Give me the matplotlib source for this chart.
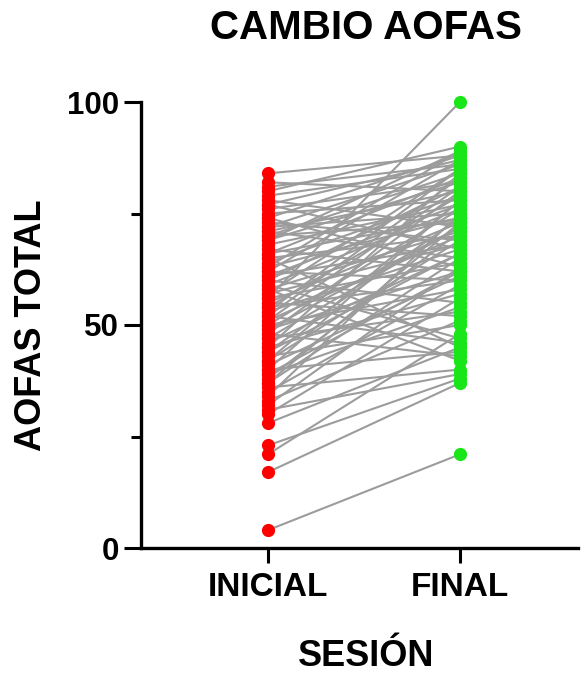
import matplotlib.pyplot as plt
import numpy as np

plt.rcParams['font.family'] = ['Liberation Sans', 'DejaVu Sans']
plt.rcParams['font.weight'] = 'bold'

sessions = ['INICIAL', 'FINAL']

# paired AOFAS scores (initial -> final)
inicial = [84, 82, 81, 80, 79, 78, 77, 77, 76, 75, 74, 74, 73, 72, 72, 71, 71, 70, 70,
           69, 69, 68, 67, 66, 66, 65, 65, 64, 63, 63, 62, 62, 61, 61, 60, 60, 59, 59,
           58, 58, 57, 57, 56, 56, 55, 55, 54, 54, 53, 53, 52, 52, 51, 51, 50, 50, 49,
           49, 48, 48, 47, 47, 46, 45, 45, 44, 44, 43, 42, 42, 41, 40, 40, 39, 39, 38,
           37, 37, 36, 35, 34, 33, 32, 31, 30, 28, 23, 21, 17, 4]
final = [88, 80, 86, 90, 85, 72, 87, 67, 82, 78, 88, 63, 69, 86, 75, 80, 65, 84, 73,
         89, 82, 77, 62, 83, 74, 70, 45, 79, 74, 89, 87, 60, 68, 77, 81, 55, 76, 47,
         71, 42, 85, 68, 100, 64, 73, 52, 79, 60, 67, 85, 83, 46, 70, 81, 58, 76, 62,
         72, 80, 43, 72, 53, 66, 57, 84, 74, 66, 50, 69, 78, 61, 78, 44, 54, 62, 71,
         65, 73, 40, 59, 75, 51, 63, 39, 56, 45, 38, 48, 37, 21]

fig = plt.figure(figsize=(5.81, 6.75), dpi=100)
ax = fig.add_axes([141 / 581, 127 / 675, 437 / 581, 446 / 675])

xpos = np.arange(len(sessions))
for a, b in zip(inicial, final):
    ax.plot(xpos, [a, b], color='#9c9c9c', lw=1.5, zorder=1, solid_capstyle='round')
ax.plot(np.zeros(len(inicial)), inicial, 'o', color='#ff0000', ms=9.5, mew=0,
        zorder=3, clip_on=False)
ax.plot(np.ones(len(final)), final, 'o', color='#19e619', ms=9.5, mew=0,
        zorder=3, clip_on=False)

ax.set_xlim(-0.661, 1.615)
ax.set_ylim(0, 100)
ax.set_xticks(xpos)
ax.set_xticklabels(sessions, fontsize=24, fontweight='bold')
ax.set_yticks([0, 50, 100])
ax.set_yticks([25, 75], minor=True)
ax.set_yticklabels(['0', '50', '100'], fontsize=22.5, fontweight='bold')
ax.tick_params(axis='y', which='major', length=12, width=2.2, pad=4)
ax.tick_params(axis='y', which='minor', length=7, width=2.2)
ax.tick_params(axis='x', length=11, width=2.2, pad=6)

for s in ['top', 'right']:
    ax.spines[s].set_visible(False)
for s in ['left', 'bottom']:
    ax.spines[s].set_linewidth(2.4)
    ax.spines[s].set_capstyle('projecting')

fig.text(366 / 581, 1 - 28 / 675, 'CAMBIO AOFAS', ha='center', va='center',
         fontsize=29, fontweight='bold')
fig.text(366 / 581, 1 - 657 / 675, 'SESIÓN', ha='center', va='center',
         fontsize=26, fontweight='bold')
fig.text(32 / 581, 1 - 325 / 675, 'AOFAS TOTAL', ha='center', va='center',
         rotation=90, fontsize=26, fontweight='bold')

fig.savefig('out.png', dpi=100, facecolor='white')
